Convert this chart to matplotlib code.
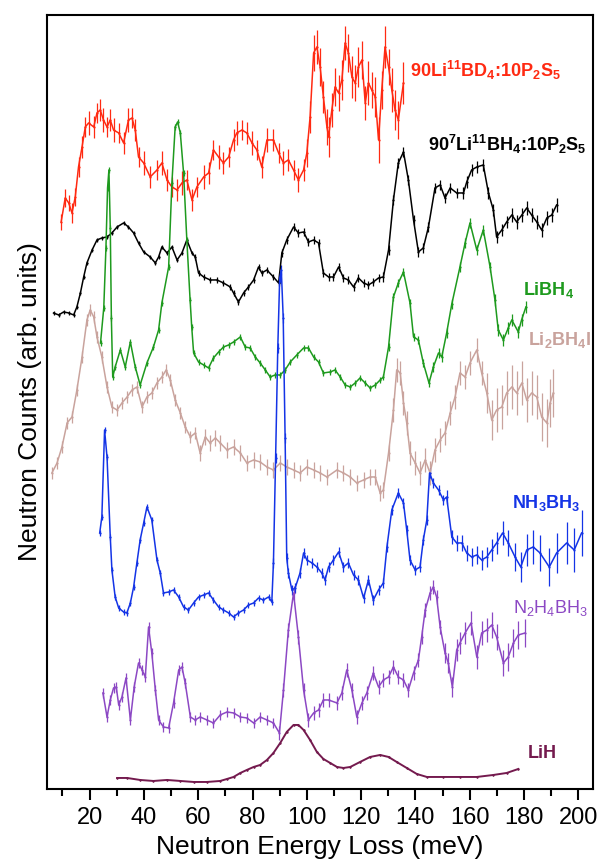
import matplotlib
matplotlib.use("Agg")
import matplotlib.pyplot as plt
from matplotlib.ticker import MultipleLocator

plt.rcParams['font.family'] = ['Liberation Sans', 'DejaVu Sans']
plt.rcParams['mathtext.default'] = 'regular'

# ---------------- data (energy in meV, stacked counts in arb. units) ----------------
red_E = [9.5, 11.0, 12.3, 13.5, 14.7, 15.9, 17.2, 18.4, 19.6, 21.5,
         22.7, 23.9, 25.1, 26.4, 27.6, 28.8, 30.7, 32.5, 34.3, 35.6,
         36.8, 38.0, 39.9, 42.3, 44.8, 46.6, 48.5, 50.3, 52.2, 54.0,
         55.8, 57.7, 59.5, 62.0, 63.8, 65.6, 67.5, 69.3, 71.2, 73.0,
         74.2, 76.1, 77.9, 79.8, 81.6, 83.4, 85.3, 87.7, 89.6, 91.4,
         93.2, 95.1, 96.9, 98.8, 100.0, 101.2, 102.5, 103.7, 104.9, 106.1,
         107.4, 108.0, 109.2, 110.4, 111.7, 112.9, 114.1, 115.3, 116.6, 117.8,
         119.0, 120.3, 121.5, 122.7, 123.9, 125.2, 126.4, 127.6, 128.8, 130.1,
         131.3, 132.5, 133.7, 135.6]
red_I = [566, 590, 585, 575, 591, 621, 641, 661, 665, 661,
         675, 678, 668, 661, 668, 658, 655, 645, 668, 670,
         658, 631, 625, 611, 618, 625, 608, 601, 598, 605,
         608, 588, 601, 611, 615, 638, 631, 625, 631, 648,
         655, 658, 655, 645, 638, 621, 648, 648, 635, 625,
         628, 618, 608, 618, 635, 671, 735, 741, 721, 691,
         661, 651, 678, 701, 695, 708, 745, 735, 711, 705,
         721, 728, 685, 705, 698, 691, 648, 698, 741, 721,
         698, 678, 668, 705]
red_err = [8, 9, 8, 10, 9, 10, 11, 10, 12, 11,
           10, 11, 12, 10, 11, 12, 10, 11, 12, 10,
           11, 10, 12, 11, 10, 12, 11, 10, 11, 12,
           10, 11, 10, 12, 11, 10, 12, 11, 10, 11,
           12, 10, 11, 12, 10, 11, 12, 11, 10, 12,
           11, 10, 12, 11, 14, 16, 18, 17, 19, 16,
           18, 20, 17, 19, 18, 20, 17, 19, 21, 18,
           20, 19, 17, 22, 18, 20, 23, 19, 21, 18,
           22, 20, 19, 21]

blk_E = [6.7, 8.6, 10.4, 12.3, 14.1, 15.3, 16.6, 17.8, 19.0, 20.9,
         22.7, 24.5, 26.4, 28.2, 30.1, 32.5, 34.3, 36.2, 38.0, 39.9,
         42.3, 44.2, 45.4, 46.6, 48.5, 50.3, 52.2, 54.0, 55.8, 57.7,
         58.9, 60.1, 62.0, 64.4, 66.9, 69.3, 71.8, 73.0, 74.8, 76.7,
         78.5, 80.4, 82.2, 83.4, 85.3, 87.7, 89.6, 90.8, 92.6, 95.1,
         96.9, 98.8, 100.6, 102.5, 104.3, 106.1, 108.0, 109.8, 111.7, 113.5,
         115.3, 117.2, 119.0, 120.9, 122.7, 124.5, 126.4, 128.2, 130.1, 131.9,
         133.7, 135.6, 137.4, 139.3, 141.1, 142.9, 144.8, 147.2, 149.1, 150.9,
         152.8, 155.2, 157.7, 158.9, 160.7, 162.6, 165.0, 166.9, 168.7, 169.9,
         171.8, 173.6, 175.5, 177.3, 179.2, 181.0, 182.8, 184.7, 186.5, 188.4,
         190.2, 192.0]
blk_I = [475, 473, 476, 475, 473, 481, 495, 511, 525, 538,
         548, 550, 551, 555, 561, 565, 561, 555, 545, 536,
         531, 525, 531, 541, 535, 541, 528, 535, 548, 535,
         531, 515, 511, 508, 508, 505, 501, 495, 486, 495,
         501, 508, 521, 515, 518, 511, 505, 535, 548, 561,
         555, 556, 546, 548, 545, 515, 511, 511, 521, 510,
         508, 501, 510, 505, 503, 506, 510, 511, 538, 588,
         625, 636, 608, 568, 536, 540, 561, 600, 603, 590,
         600, 595, 595, 606, 618, 621, 623, 595, 578, 551,
         558, 566, 573, 566, 573, 580, 573, 566, 558, 570,
         573, 583]
blk_err = [2, 2, 2, 2, 2, 2, 2, 2, 2, 2,
           2, 2, 2, 2, 2, 2, 2, 2, 2, 2,
           2, 2, 2, 2, 2, 2, 2, 2, 2, 2,
           3, 3, 3, 3, 3, 3, 3, 3, 3, 3,
           3, 3, 3, 3, 3, 3, 3, 4, 4, 4,
           4, 4, 4, 4, 4, 4, 4, 4, 4, 4,
           4, 4, 4, 4, 4, 4, 4, 5, 5, 5,
           5, 5, 5, 5, 5, 5, 5, 5, 5, 5,
           5, 5, 6, 6, 6, 6, 6, 6, 6, 6,
           6, 6, 7, 7, 7, 7, 7, 7, 7, 7,
           7, 7]

grn_E = [24.0, 25.2, 26.0, 26.6, 27.1, 27.6, 28.0, 28.5, 29.4, 31.3,
         33.1, 35.0, 36.8, 38.6, 41.1, 43.5, 45.4, 46.6, 49.1, 50.3,
         51.5, 52.4, 53.4, 54.6, 55.8, 57.0, 57.6, 58.3, 60.1, 62.0,
         63.8, 65.6, 67.5, 69.3, 71.2, 73.0, 75.5, 77.3, 79.1, 81.0,
         82.8, 84.7, 86.5, 88.3, 90.2, 92.0, 93.9, 96.3, 98.8, 100.6,
         102.5, 104.3, 106.1, 108.6, 110.4, 112.3, 114.1, 116.0, 117.8, 119.6,
         121.5, 123.3, 125.2, 127.0, 128.2, 130.1, 131.9, 133.7, 135.6, 138.0,
         139.3, 141.1, 142.9, 145.0, 146.6, 148.5, 149.7, 151.5, 153.4, 156.4,
         158.3, 160.1, 162.6, 165.0, 167.5, 169.3, 170.5, 172.4, 174.2, 175.5,
         177.9, 179.1, 180.7]
grn_I = [445, 480, 540, 600, 618, 560, 470, 411, 421, 438,
         421, 446, 421, 403, 425, 441, 458, 485, 521, 605,
         661, 666, 655, 615, 548, 488, 461, 435, 426, 423,
         420, 430, 436, 441, 443, 446, 451, 441, 440, 431,
         425, 418, 411, 413, 413, 418, 426, 433, 440, 440,
         431, 426, 415, 416, 418, 411, 403, 401, 405, 410,
         405, 400, 403, 408, 411, 441, 491, 505, 516, 485,
         451, 448, 425, 405, 421, 435, 431, 455, 484, 521,
         545, 565, 538, 558, 521, 488, 458, 448, 460, 468,
         456, 468, 481]
grn_err = [3, 3, 3, 3, 3, 3, 3, 3, 3, 3,
           3, 3, 3, 3, 3, 3, 3, 3, 3, 3,
           3, 3, 3, 3, 3, 3, 3, 3, 3, 3,
           3, 3, 3, 3, 3, 3, 3, 3, 3, 3,
           3, 3, 3, 3, 3, 3, 3, 3, 3, 3,
           3, 3, 3, 3, 3, 3, 3, 3, 3, 3,
           3, 3, 3, 3, 3, 4, 4, 4, 4, 4,
           4, 4, 4, 4, 5, 5, 5, 5, 5, 5,
           5, 5, 5, 5, 5, 6, 6, 6, 6, 6,
           6, 6, 6]

ros_E = [6.1, 8.0, 9.8, 11.7, 13.5, 15.3, 17.2, 19.0, 20.2, 21.5,
         22.7, 24.5, 26.4, 28.2, 30.1, 31.9, 33.8, 35.6, 37.4, 39.3,
         41.1, 42.9, 44.8, 46.6, 48.2, 49.7, 51.5, 53.4, 55.2, 57.1,
         58.9, 60.7, 62.6, 64.4, 66.3, 68.1, 70.6, 73.0, 75.5, 77.9,
         80.4, 82.8, 85.3, 87.7, 90.2, 92.6, 95.1, 97.5, 100.0, 102.5,
         104.9, 107.4, 111.1, 113.5, 116.0, 118.4, 120.9, 123.3, 125.2, 127.0,
         128.2, 130.1, 131.9, 133.1, 134.4, 135.6, 136.8, 138.0, 139.9, 141.7,
         143.6, 145.4, 147.2, 149.1, 150.9, 152.8, 154.6, 156.4, 158.3, 160.1,
         162.6, 164.4, 166.3, 168.1, 169.9, 171.8, 173.6, 175.5, 177.3, 179.2,
         181.0, 182.8, 184.7, 186.5, 188.4, 189.6, 190.8]
ros_I = [315, 325, 341, 365, 371, 398, 431, 468, 478, 471,
         451, 431, 401, 381, 378, 385, 391, 398, 401, 381,
         391, 395, 405, 411, 418, 408, 388, 375, 361, 351,
         355, 335, 351, 345, 350, 345, 338, 341, 335, 325,
         328, 326, 321, 318, 325, 321, 318, 315, 321, 318,
         315, 311, 318, 315, 311, 305, 308, 311, 311, 295,
         298, 335, 378, 418, 415, 385, 365, 335, 325, 315,
         328, 315, 338, 348, 355, 375, 391, 415, 411, 425,
         438, 415, 395, 368, 378, 381, 395, 401, 395, 405,
         388, 395, 391, 371, 365, 385, 395]
ros_err = [6, 6, 6, 6, 6, 6, 6, 6, 6, 6,
           6, 6, 6, 6, 6, 6, 6, 6, 6, 6,
           6, 6, 6, 6, 6, 6, 6, 6, 6, 6,
           6, 8, 8, 8, 8, 8, 8, 8, 8, 8,
           8, 8, 8, 8, 8, 8, 8, 8, 8, 8,
           8, 8, 8, 8, 8, 8, 8, 8, 8, 8,
           8, 8, 12, 12, 12, 12, 12, 12, 12, 12,
           12, 12, 12, 12, 12, 12, 12, 12, 12, 12,
           12, 12, 20, 20, 22, 22, 22, 22, 22, 22,
           22, 22, 22, 24, 24, 24, 24]

blu_E = [23.7, 24.5, 25.5, 26.4, 27.6, 28.2, 29.4, 30.7, 32.5, 33.7,
         35.0, 36.2, 37.4, 38.6, 39.9, 41.1, 42.9, 44.8, 46.0, 47.2,
         49.1, 50.9, 52.8, 54.6, 56.4, 58.3, 60.1, 62.0, 63.8, 65.6,
         67.5, 69.3, 71.2, 73.0, 74.8, 76.7, 78.5, 80.4, 82.2, 84.0,
         85.9, 87.1, 87.7, 88.5, 89.3, 90.0, 90.6, 91.3, 92.0, 92.6,
         93.2, 94.5, 95.7, 97.5, 98.8, 100.0, 101.9, 103.7, 105.5, 106.7,
         108.0, 109.8, 111.7, 113.5, 115.3, 117.2, 119.0, 120.9, 122.7, 124.5,
         126.4, 128.2, 129.5, 131.3, 133.7, 135.6, 136.8, 138.0, 139.9, 141.7,
         142.9, 144.2, 145.2, 146.6, 148.5, 150.3, 151.5, 153.4, 155.2, 157.1,
         158.9, 160.7, 162.6, 164.4, 166.3, 168.1, 169.9, 172.1, 174.2, 176.7,
         178.8, 181.0, 183.4, 185.9, 189.3, 192.0, 195.7, 198.5, 201.2]
blu_I = [255, 271, 358, 331, 251, 218, 191, 180, 176, 175,
         185, 201, 225, 248, 265, 281, 268, 228, 215, 195,
         196, 198, 191, 181, 178, 185, 191, 193, 195, 188,
         181, 178, 175, 171, 175, 178, 183, 185, 190, 188,
         191, 186, 225, 330, 440, 510, 518, 470, 350, 230,
         215, 198, 200, 215, 235, 228, 225, 221, 215, 208,
         221, 228, 236, 221, 225, 213, 208, 190, 208, 188,
         198, 205, 241, 278, 295, 285, 258, 228, 218, 221,
         248, 268, 315, 305, 298, 288, 291, 251, 245, 245,
         235, 231, 233, 228, 231, 238, 245, 255, 245, 231,
         221, 238, 241, 235, 221, 235, 245, 238, 255]
blu_err = [3, 3, 3, 3, 3, 3, 3, 3, 3, 3,
           3, 3, 3, 3, 3, 3, 3, 3, 3, 3,
           3, 3, 3, 3, 3, 3, 3, 3, 3, 3,
           3, 3, 3, 3, 3, 3, 3, 3, 3, 3,
           3, 3, 5, 5, 5, 5, 5, 5, 5, 5,
           5, 5, 5, 5, 5, 5, 5, 5, 5, 5,
           5, 5, 5, 5, 5, 5, 5, 5, 5, 5,
           5, 5, 5, 5, 5, 5, 5, 5, 5, 5,
           5, 5, 5, 5, 5, 5, 7, 7, 8, 8,
           8, 9, 9, 10, 10, 11, 11, 12, 13, 14,
           15, 16, 17, 18, 19, 20, 21, 22, 23]

pur_E = [24.9, 26.4, 27.6, 28.8, 29.8, 30.7, 31.9, 33.4, 35.0, 36.4,
         38.0, 39.3, 40.5, 41.7, 42.9, 44.2, 45.4, 47.2, 49.1, 50.9,
         52.8, 54.0, 55.2, 57.1, 58.9, 60.7, 63.2, 65.6, 68.1, 70.6,
         73.0, 75.5, 77.9, 80.4, 82.8, 85.3, 87.7, 89.9, 91.4, 93.2,
         95.1, 96.9, 98.8, 100.6, 102.5, 104.3, 106.1, 108.0, 111.1, 112.9,
         114.7, 116.6, 118.4, 120.3, 122.1, 124.5, 126.4, 128.2, 130.1, 131.9,
         133.7, 135.6, 137.4, 139.3, 141.1, 142.3, 143.6, 145.4, 146.6, 147.8,
         149.1, 150.9, 152.1, 153.6, 155.2, 156.4, 158.3, 160.5, 162.6, 164.4,
         166.3, 168.1, 169.9, 172.4, 174.2, 176.1, 177.9, 180.4]
pur_I = [95, 71, 88, 100, 101, 83, 91, 110, 68, 101,
         125, 118, 111, 161, 135, 98, 68, 61, 60, 85,
         118, 121, 105, 71, 68, 71, 68, 65, 73, 76,
         75, 71, 70, 65, 71, 68, 65, 55, 98, 158,
         195, 151, 98, 68, 75, 78, 88, 88, 85, 95,
         118, 98, 71, 85, 95, 115, 101, 108, 111, 121,
         111, 108, 98, 115, 128, 151, 178, 195, 201, 191,
         161, 135, 125, 101, 138, 145, 155, 165, 131, 155,
         158, 163, 151, 125, 131, 145, 153, 155]
pur_err = [5, 5, 5, 5, 5, 5, 5, 5, 5, 5,
           5, 5, 5, 5, 5, 5, 5, 5, 5, 5,
           5, 5, 5, 5, 5, 5, 5, 5, 5, 5,
           5, 5, 5, 5, 5, 5, 5, 7, 7, 7,
           7, 7, 7, 7, 7, 7, 7, 7, 7, 7,
           7, 7, 7, 7, 7, 7, 7, 7, 7, 7,
           7, 7, 7, 7, 7, 7, 7, 7, 7, 7,
           7, 10, 10, 10, 11, 11, 11, 12, 12, 12,
           12, 13, 13, 13, 14, 14, 14, 14]

lih_E = [30.1, 33.8, 38.6, 43.5, 48.5, 53.4, 58.3, 63.2, 68.1, 70.6,
         73.0, 75.5, 77.9, 80.4, 82.8, 85.3, 87.7, 90.2, 92.6, 95.1,
         96.9, 98.8, 101.2, 103.7, 106.1, 108.6, 111.1, 113.5, 116.0, 119.6,
         123.3, 127.0, 130.1, 133.1, 136.8, 140.5, 144.2, 150.3, 156.4, 162.6,
         168.7, 173.6, 177.9]
lih_I = [10, 10, 8, 7, 8, 7, 6, 6, 7, 9,
         11, 15, 18, 21, 23, 28, 35, 45, 56, 63,
         63, 58, 48, 36, 29, 25, 21, 20, 21, 26,
         31, 33, 31, 26, 20, 14, 11, 11, 11, 11,
         13, 15, 19]
lih_err = [1] * len(lih_I)

series = [
    (red_E, red_I, red_err, '#ff2a12', 1.1),
    (blk_E, blk_I, blk_err, '#000000', 1.1),
    (ros_E, ros_I, ros_err, '#c9a39d', 1.1),
    (grn_E, grn_I, grn_err, '#1e9a1e', 1.1),
    (pur_E, pur_I, pur_err, '#8c48c4', 1.1),
    (lih_E, lih_I, lih_err, '#741a4e', 1.4),
    (blu_E, blu_I, blu_err, '#1434e6', 1.1),
]

labels = [
    ('90Li$^{11}$BD$_4$:10P$_2$S$_5$', 138.0, 711, '#ff2a12', 'bold'),
    ('90$^7$Li$^{11}$BH$_4$:10P$_2$S$_5$', 144.7, 637, '#000000', 'bold'),
    ('LiBH$_4$', 179.6, 493, '#1e9a1e', 'bold'),
    ('Li$_2$BH$_4$I', 181.5, 443, '#c9a39d', 'bold'),
    ('NH$_3$BH$_3$', 175.6, 280, '#1434e6', 'bold'),
    ('N$_2$H$_4$BH$_3$', 175.9, 175, '#8c48c4', 'normal'),
    ('LiH', 181.5, 30, '#741a4e', 'bold'),
]

# ---------------- figure ----------------
fig = plt.figure(figsize=(6.04, 8.65), dpi=100)
ax = fig.add_axes([0.0783, 0.0879, 0.9030, 0.8948])

for E, I, err, c, lw in series:
    assert len(E) == len(I) == len(err)
    ax.errorbar(E, I, yerr=err, color=c, lw=lw, elinewidth=0.9,
                capsize=0, marker='o', ms=1.6, mew=0)

for txt, x, y, c, w in labels:
    ax.text(x, y, txt, color=c, fontsize=13, fontweight=w, va='baseline', ha='left')

ax.set_xlim(4.4, 205.3)
ax.set_ylim(-1, 773)
ax.set_yticks([])
ax.xaxis.set_major_locator(MultipleLocator(20))
ax.xaxis.set_minor_locator(MultipleLocator(10))
ax.set_xticks(range(20, 201, 20))
ax.tick_params(axis='x', which='major', direction='out', length=8, width=1.5,
               labelsize=17, pad=5)
ax.tick_params(axis='x', which='minor', direction='out', length=5, width=1.5)
ax.tick_params(axis='x', top=False)
for s in ax.spines.values():
    s.set_linewidth(1.5)

ax.set_xlabel('Neutron Energy Loss (meV)', fontsize=19, labelpad=4)
ax.set_ylabel('Neutron Counts (arb. units)', fontsize=19, labelpad=4)

fig.savefig('out.png', dpi=100)
